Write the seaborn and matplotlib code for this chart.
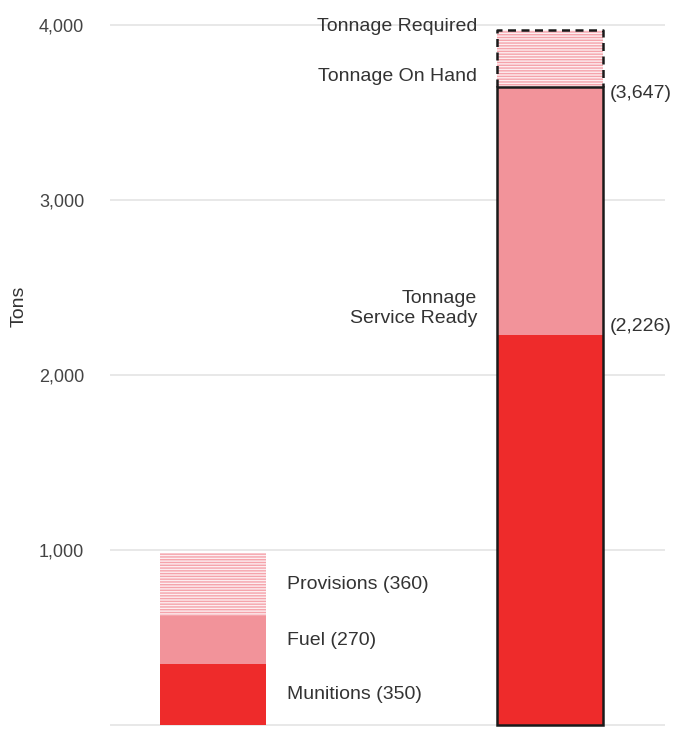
import numpy as np
import pandas as pd
import matplotlib
matplotlib.use("Agg")
import matplotlib.pyplot as plt
import seaborn as sns

# data
categories = ["Current", "Goal"]
left_parts = ["Munitions", "Fuel", "Provisions"]
left_values = [350, 270, 360]
service_ready = 2226
on_hand = 3647
required = 3970
y_ticks = [1000, 2000, 3000, 4000]

red = "#ee2b2b"
pink = "#f2939a"
stripe = "#f5a3ab"
stripe_bg = "#fdeef0"
txt = "#333333"

sns.set_style("white")
plt.rcParams["font.family"] = ["Liberation Sans", "DejaVu Sans"]
plt.rcParams["hatch.linewidth"] = 1.0

fig = plt.figure(figsize=(6.82, 7.29), dpi=100)
ax = fig.add_axes([110 / 682, 0, 555 / 682, 1])

w = 106 / 337
cum_left = np.cumsum(left_values)

# gridlines
for t in [0] + y_ticks:
    ax.axhline(t, color="#e4e4e4", lw=1.2, zorder=0)

# right bar: required (hatched, dashed)
sns.barplot(x=[categories[1]], y=[required], order=categories, width=w,
            color=stripe_bg, hatch="------", edgecolor=stripe, linewidth=0,
            saturation=1, ax=ax, zorder=2)
# left bar: provisions (cumulative total)
sns.barplot(x=[categories[0]], y=[cum_left[2]], order=categories, width=w,
            color=stripe_bg, hatch="------", edgecolor=stripe, linewidth=0,
            saturation=1, ax=ax, zorder=2)
# fuel / on hand
sns.barplot(x=categories, y=[cum_left[1], on_hand], width=w, color=pink,
            linewidth=0, saturation=1, ax=ax, zorder=3)
# munitions / service ready
sns.barplot(x=categories, y=[cum_left[0], service_ready], width=w, color=red,
            linewidth=0, saturation=1, ax=ax, zorder=4)
# outline of on-hand tonnage
sns.barplot(x=[categories[1]], y=[on_hand], order=categories, width=w,
            fill=False, edgecolor="#1a1a1a", linewidth=1.8, saturation=1,
            ax=ax, zorder=5)

# dashed outline of the required portion
x0, x1 = 1 - w / 2, 1 + w / 2
ax.plot([x0, x0, x1, x1], [on_hand, required, required, on_hand],
        color="#1a1a1a", lw=1.8, ls=(0, (3.2, 2.2)), zorder=6,
        solid_capstyle="butt")

ax.set_xlim(-0.306, 1.341)
ax.set_ylim(-23, 4143)
ax.set_yticks(y_ticks)
ax.set_yticklabels([f"{t:,}" for t in y_ticks])
ax.set_xticks([])
ax.tick_params(axis="y", length=0, pad=18.5, labelsize=13, labelcolor="#444444")
ax.set_xlabel("")
ax.set_ylabel("Tons", fontsize=14, color=txt)
ax.yaxis.set_label_coords(-82 / 555, 1 - 306 / 729)
sns.despine(ax=ax, left=True, bottom=True)

# left bar labels
lx = 0 + 74 / 337
bottoms = [0] + list(cum_left[:-1])
for name, v, b in zip(left_parts, left_values, bottoms):
    ax.text(lx, b + v / 2, f"{name} ({v})", fontsize=14, color=txt,
            va="center", ha="left")

# right bar labels
rx = 1 - 73 / 337
ax.text(rx, required + 20, "Tonnage Required", fontsize=14, color=txt,
        ha="right", va="center")
ax.text(rx, on_hand + 60, "Tonnage On Hand", fontsize=14, color=txt,
        ha="right", va="center")
ax.text(rx, service_ready + 155, "Tonnage\nService Ready", fontsize=14,
        color=txt, ha="right", va="center", multialignment="right",
        linespacing=1.25)
vx = 1 + 60 / 337
ax.text(vx, on_hand - 40, f"({on_hand:,})", fontsize=14, color=txt,
        ha="left", va="center")
ax.text(vx, service_ready + 50, f"({service_ready:,})", fontsize=14,
        color=txt, ha="left", va="center")

fig.savefig("out.png", dpi=100)
